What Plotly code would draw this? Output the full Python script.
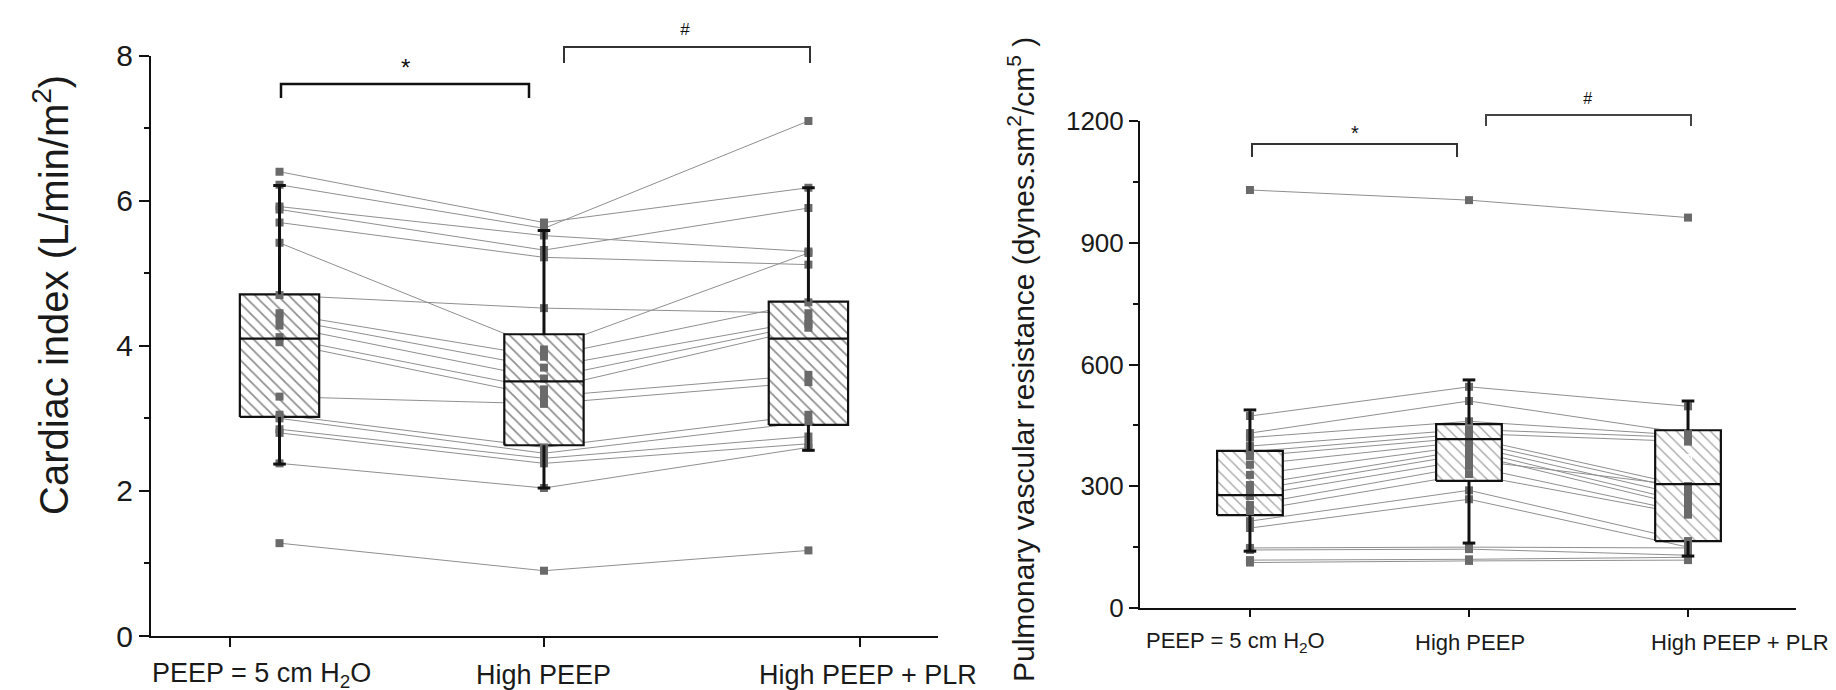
import plotly.graph_objects as go

W, H = 1836, 690
FONT = "Liberation Sans, Arial, sans-serif"
TXT = "#1a1a1a"

# ---------------- data ----------------
positions = [1, 2, 3]
group_labels = ["PEEP = 5 cm H<sub>2</sub>O", "High PEEP", "High PEEP + PLR"]

# Cardiac index (L/min/m2), one entry per patient
ci_peep5 = [6.40, 6.22, 5.92, 5.88, 5.70, 5.42, 4.70, 4.45, 4.38, 4.28, 4.12, 4.05, 3.30, 3.05, 3.00, 2.85, 2.80, 2.38, 1.28]
ci_high = [5.70, 5.62, 5.52, 5.32, 5.22, 3.95, 4.52, 3.85, 3.70, 3.55, 3.40, 3.30, 3.20, 2.60, 2.52, 2.45, 2.38, 2.04, 0.90]
ci_plr = [6.18, 7.10, 5.30, 5.90, 5.12, 5.28, 4.45, 4.60, 4.35, 4.30, 4.25, 3.60, 3.50, 3.05, 2.95, 2.75, 2.65, 2.60, 1.18]

ci_q1 = [3.02, 2.63, 2.91]
ci_median = [4.10, 3.51, 4.10]
ci_q3 = [4.71, 4.16, 4.61]
ci_lower = [2.37, 2.04, 2.56]
ci_upper = [6.21, 5.59, 6.18]

# Pulmonary vascular resistance, one entry per patient
pvr_peep5 = [1030, 473, 431, 420, 399, 385, 374, 353, 328, 303, 290, 276, 254, 239, 214, 197, 148, 143, 118, 112]
pvr_high = [1005, 545, 510, 460, 440, 430, 420, 410, 400, 390, 380, 365, 350, 330, 290, 268, 150, 145, 120, 116]
pvr_plr = [962, 497, 430, 425, 420, 410, 300, 290, 275, 260, 250, 300, 235, 230, 165, 150, 148, 130, 125, 118]

pvr_q1 = [229, 313, 165]
pvr_median = [278, 416, 305]
pvr_q3 = [387, 453, 438]
pvr_lower = [140, 160, 128]
pvr_upper = [488, 562, 510]
pvr_mean_plr = [369]

BOX_W = 0.30


def px_x(p):
    return p / W


def px_y(p):
    return 1 - p / H


def panel(fig, xa, ya, g1, g2, g3, q1, med, q3, lo, up, hatch_color, hatch_sol):
    # patient lines
    lx, ly = [], []
    for a, b, c in zip(g1, g2, g3):
        lx += [positions[0], positions[1], positions[2], None]
        ly += [a, b, c, None]
    fig.add_trace(go.Scatter(x=lx, y=ly, mode="lines", xaxis=xa, yaxis=ya,
                             line=dict(color="#8f8f8f", width=1), hoverinfo="skip", showlegend=False))
    # hatched boxes
    bx, by = [], []
    for p, a, b in zip(positions, q1, q3):
        bx += [p - BOX_W / 2, p + BOX_W / 2, p + BOX_W / 2, p - BOX_W / 2, p - BOX_W / 2, None]
        by += [a, a, b, b, a, None]
    fig.add_trace(go.Scatter(x=bx, y=by, mode="lines", fill="toself", xaxis=xa, yaxis=ya,
                             fillcolor="white",
                             fillpattern=dict(shape="\\", size=8, solidity=hatch_sol,
                                              fgcolor=hatch_color, bgcolor="white", fillmode="overlay"),
                             line=dict(color="#111", width=2.2), hoverinfo="skip", showlegend=False))
    # points
    n = len(g1)
    fig.add_trace(go.Scatter(x=[positions[0]] * n + [positions[1]] * n + [positions[2]] * n,
                             y=list(g1) + list(g2) + list(g3), mode="markers", xaxis=xa, yaxis=ya,
                             marker=dict(symbol="square", size=8, color="#6a6a6a"),
                             hoverinfo="skip", showlegend=False))
    # whiskers
    wx, wy = [], []
    for p, a, b, l, u in zip(positions, q1, q3, lo, up):
        wx += [p, p, None, p, p, None]
        wy += [b, u, None, a, l, None]
    fig.add_trace(go.Scatter(x=wx, y=wy, mode="lines", xaxis=xa, yaxis=ya,
                             line=dict(color="#111", width=3), hoverinfo="skip", showlegend=False))
    # median
    mx, my = [], []
    for p, m in zip(positions, med):
        mx += [p - BOX_W / 2, p + BOX_W / 2, None]
        my += [m, m, None]
    fig.add_trace(go.Scatter(x=mx, y=my, mode="lines", xaxis=xa, yaxis=ya,
                             line=dict(color="#111", width=2.2), hoverinfo="skip", showlegend=False))
    # whisker caps
    fig.add_trace(go.Scatter(x=positions + positions, y=list(up) + list(lo), mode="markers",
                             xaxis=xa, yaxis=ya,
                             marker=dict(symbol="line-ew", size=9, line=dict(color="#111", width=3)),
                             hoverinfo="skip", showlegend=False))


fig = go.Figure()
panel(fig, "x", "y", ci_peep5, ci_high, ci_plr, ci_q1, ci_median, ci_q3, ci_lower, ci_upper, "#1e1e1e", 0.22)
panel(fig, "x2", "y2", pvr_peep5, pvr_high, pvr_plr, pvr_q1, pvr_median, pvr_q3, pvr_lower, pvr_upper, "#555555", 0.18)
fig.add_trace(go.Scatter(x=[positions[2]], y=pvr_mean_plr, mode="markers", xaxis="x2", yaxis="y2",
                         marker=dict(symbol="circle-open", size=7, color="white", line=dict(color="white", width=1.5)),
                         hoverinfo="skip", showlegend=False))

axis_common = dict(showline=True, linecolor="#111", linewidth=2, ticks="outside", tickcolor="#111",
                   tickwidth=2, showgrid=False, zeroline=False, fixedrange=True, automargin=False)

fig.update_layout(
    width=W, height=H, autosize=False,
    margin=dict(l=0, r=0, t=0, b=0),
    paper_bgcolor="white", plot_bgcolor="white",
    font=dict(family=FONT, color=TXT, size=14),
    showlegend=False,
    xaxis=dict(domain=[px_x(143), px_x(930)], range=[0.514, 3.49], anchor="y",
               tickvals=[0.813, 2, 3.195], showticklabels=False, ticklen=9, **axis_common),
    yaxis=dict(domain=[px_y(628), px_y(47.7)], range=[0, 8], anchor="x",
               tickvals=[0, 2, 4, 6, 8], ticklen=10, tickfont=dict(size=30, family=FONT, color=TXT),
               minor=dict(ticks="outside", ticklen=5, tickwidth=1.5, tickcolor="#111", tickvals=[1, 3, 5, 7]),
               **axis_common),
    xaxis2=dict(domain=[px_x(1132), px_x(1788)], range=[0.498, 3.493], anchor="y2",
                tickvals=positions, showticklabels=False, ticklen=7, **axis_common),
    yaxis2=dict(domain=[px_y(600), px_y(113)], range=[0, 1200], anchor="x2",
                tickvals=[0, 300, 600, 900, 1200], ticklen=9, tickfont=dict(size=26, family=FONT, color=TXT),
                minor=dict(ticks="outside", ticklen=5, tickwidth=1.5, tickcolor="#111", tickvals=[150, 450, 750, 1050]),
                **axis_common),
)

# category labels (offset from ticks as in the original)
left_label_x = [0.93, 2.0, 3.225]
right_label_x = [0.932, 2.005, 3.237]
for lx, t in zip(left_label_x, group_labels):
    fig.add_annotation(x=lx, xref="x", y=px_y(667), yref="paper", text=t, showarrow=False,
                       xanchor="center", yanchor="middle", font=dict(size=27, family=FONT, color=TXT))
for lx, t in zip(right_label_x, group_labels):
    fig.add_annotation(x=lx, xref="x2", y=px_y(634), yref="paper", text=t, showarrow=False,
                       xanchor="center", yanchor="middle", font=dict(size=22, family=FONT, color=TXT))

# axis titles
fig.add_annotation(x=px_x(43), y=px_y(287), xref="paper", yref="paper", textangle=-90,
                   text="Cardiac index (L/min/m<sup>2</sup>)", showarrow=False,
                   xanchor="center", yanchor="middle", font=dict(size=40, family=FONT, color=TXT))
fig.add_annotation(x=px_x(1013), y=px_y(352), xref="paper", yref="paper", textangle=-90,
                   text="Pulmonary vascular resistance (dynes.sm<sup>2</sup>/cm<sup>5</sup> )", showarrow=False,
                   xanchor="center", yanchor="middle", font=dict(size=30, family=FONT, color=TXT))


# significance brackets
def bracket(x0, x1, yl, yd, color, width, label, lx, ly, size):
    fig.add_shape(type="path", xref="paper", yref="paper",
                  path=f"M {px_x(x0)} {px_y(yd)} L {px_x(x0)} {px_y(yl)} L {px_x(x1)} {px_y(yl)} L {px_x(x1)} {px_y(yd)}",
                  line=dict(color=color, width=width))
    fig.add_annotation(x=px_x(lx), y=px_y(ly), xref="paper", yref="paper", text=label, showarrow=False,
                       xanchor="center", yanchor="middle", font=dict(size=size, family=FONT, color="#111"))


bracket(273, 521, 76, 90, "#111", 2.5, "*", 397, 60, 24)
bracket(556, 802, 39, 55, "#333", 2, "<i>#</i>", 677, 21, 17)
bracket(1244, 1449, 136, 149, "#333", 2, "*", 1347, 125, 20)
bracket(1478, 1683, 107, 118, "#444", 2, "<i>#</i>", 1580, 90, 16)

fig.write_html("out.html")
